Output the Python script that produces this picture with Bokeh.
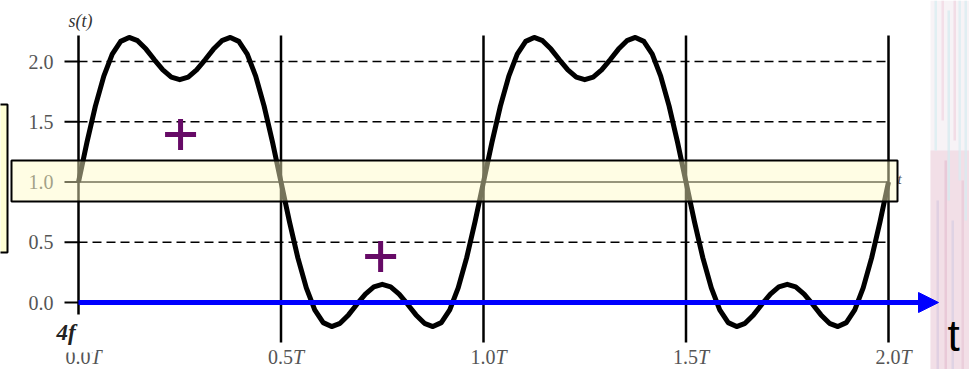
from bokeh.plotting import figure
from bokeh.models import Arrow, NormalHead, BoxAnnotation
from bokeh.core.properties import value
from bokeh.embed import file_html
from bokeh.resources import INLINE
import numpy as np

# ---------------- data ----------------
# sampled signal s(t), t in units of T, 48 samples per period
s_values = [
    1.000, 1.329, 1.630, 1.879, 2.061, 2.167, 2.200, 2.173, 2.103, 2.014, 1.930, 1.870,
    1.849, 1.870, 1.930, 2.014, 2.103, 2.173, 2.200, 2.167, 2.061, 1.879, 1.630, 1.329,
    1.000, 0.671, 0.370, 0.121, -0.061, -0.167, -0.200, -0.173, -0.103, -0.014, 0.070, 0.130,
    0.151, 0.130, 0.070, -0.014, -0.103, -0.173, -0.200, -0.167, -0.061, 0.121, 0.370, 0.671,
    1.000, 1.329, 1.630, 1.879, 2.061, 2.167, 2.200, 2.173, 2.103, 2.014, 1.930, 1.870,
    1.849, 1.870, 1.930, 2.014, 2.103, 2.173, 2.200, 2.167, 2.061, 1.879, 1.630, 1.329,
    1.000, 0.671, 0.370, 0.121, -0.061, -0.167, -0.200, -0.173, -0.103, -0.014, 0.070, 0.130,
    0.151, 0.130, 0.070, -0.014, -0.103, -0.173, -0.200, -0.167, -0.061, 0.121, 0.370, 0.671,
    1.000,
]
t_values = list(np.arange(len(s_values)) / 48.0)

xtick_pos = [0.0, 0.5, 1.0, 1.5, 2.0]
xtick_num = ["0.0", "0.5", "1.0", "1.5", "2.0"]
xtick_unit = ["T", "T", "T", "T", "T"]
ytick_pos = [0.0, 0.5, 1.0, 1.5, 2.0]
ytick_labels = ["0.0", "0.5", "1.0", "1.5", "2.0"]
dashed_levels = [0.5, 1.5, 2.0]
solid_level = [1.0]
plus_t = [0.252, 0.746]
plus_s = [1.394, 0.382]

# ---------------- layout helpers (picture pixels -> data) ----------------
W, H = 969, 369
def px2t(px):
    return (px - 78) / 405.0
def py2s(py):
    return (302 - py) / 120.5

p = figure(width=W, height=H, x_range=(px2t(0), px2t(W)), y_range=(py2s(H), py2s(0)),
           output_backend="svg", toolbar_location=None, min_border=0)
p.axis.visible = False
p.grid.visible = False
p.outline_line_color = None
p.background_fill_color = "white"
p.border_fill_color = "white"

serif = value("Liberation Serif")

# decorative textured strip on the right
p.quad(left=px2t(930), right=px2t(975), bottom=py2s(369), top=py2s(0),
       fill_color="#f7f3f6", line_color=None)
p.quad(left=px2t(930), right=px2t(975), bottom=py2s(369), top=py2s(150),
       fill_color="#efd2de", fill_alpha=0.6, line_color=None)
for sx, col, top, bot in [(934, "#d6edf1", 0, 150), (941, "#f1d6e2", 0, 120), (947, "#d3eaf0", 10, 200),
                          (953, "#efd3df", 0, 140), (958, "#d8ecf2", 0, 180), (964, "#d5ebf1", 0, 220),
                          (936, "#d9c9e0", 200, 369), (944, "#e5bfd1", 160, 369), (951, "#d7cde2", 220, 369),
                          (961, "#e8c6d6", 180, 369)]:
    p.quad(left=px2t(sx), right=px2t(sx + 2.5), bottom=py2s(bot), top=py2s(top),
           fill_color=col, fill_alpha=0.7, line_color=None)

# left box (mostly outside the view)
p.quad(left=px2t(-10), right=px2t(7), bottom=py2s(252), top=py2s(104),
       fill_color="#ffffd4", line_color="black", line_width=2)

# horizontal reference lines
p.segment(x0=[xtick_pos[0]] * len(dashed_levels), x1=[xtick_pos[-1]] * len(dashed_levels),
          y0=dashed_levels, y1=dashed_levels, line_color="black", line_width=1.5, line_dash="9 5")
p.segment(x0=[xtick_pos[0]], x1=[xtick_pos[-1]], y0=solid_level, y1=solid_level,
          line_color="black", line_width=1.5)

# vertical lines at the x ticks
p.segment(x0=xtick_pos, x1=xtick_pos, y0=[py2s(342)] * len(xtick_pos), y1=[py2s(35)] * len(xtick_pos),
          line_color="black", line_width=2.5)

# y ticks
p.segment(x0=[px2t(64)] * len(ytick_pos), x1=[px2t(79)] * len(ytick_pos), y0=ytick_pos, y1=ytick_pos,
          line_color="black", line_width=2)
p.text(x=[0] * len(ytick_pos), y=ytick_pos, text=ytick_labels, x_offset=-25, y_offset=0,
       text_align="right", text_baseline="alphabetic", text_font=serif,
       text_font_size="20px", text_color="#555555")

# signal
p.line(t_values, s_values, line_color="black", line_width=5, line_join="round")

# purple markers
p.scatter(plus_t, plus_s, marker="cross", size=31, line_width=5, line_color="#660a66")

# x tick labels
p.text(x=xtick_pos, y=[0] * len(xtick_pos), text=xtick_num, x_offset=-13, y_offset=54,
       text_align="left", text_baseline="alphabetic", text_font=serif,
       text_font_size="20px", text_color="#555555")
p.text(x=xtick_pos, y=[0] * len(xtick_pos), text=xtick_unit, x_offset=12, y_offset=54,
       text_align="left", text_baseline="alphabetic", text_font=serif, text_font_style="italic",
       text_font_size="20px", text_color="#555555")

# white patch with "4f"
p.quad(left=px2t(50), right=px2t(96), bottom=py2s(352), top=py2s(314),
       fill_color="white", line_color=None)
p.text(x=[px2t(56)], y=[py2s(332)], text=["4f"], text_align="left", text_baseline="alphabetic",
       text_font=serif, text_font_style="bold italic", text_font_size="23px", text_color="#222222")

# axis titles
p.text(x=[0], y=[py2s(20)], text=["s(t)"], x_offset=2, text_align="center",
       text_baseline="alphabetic", text_font=serif, text_font_style="italic",
       text_font_size="18px", text_color="#333333")
p.text(x=[px2t(897)], y=[py2s(178)], text=["t"], text_align="left", text_baseline="alphabetic",
       text_font=serif, text_font_style="italic", text_font_size="15px", text_color="#555555")

# blue time arrow
p.add_layout(Arrow(end=NormalHead(size=20, fill_color="#0000ff", line_color="#0000ff"),
                   x_start=0, y_start=0, x_end=px2t(938), y_end=0,
                   line_color="#0000ff", line_width=5))
p.text(x=[px2t(947)], y=[py2s(335)], text=["t"], text_align="left", text_baseline="alphabetic",
       text_font=value("Liberation Sans"), text_font_size="44px", text_color="black")

# highlight band around s = 1
p.add_layout(BoxAnnotation(left=px2t(11), right=px2t(897), bottom=py2s(201), top=py2s(160),
                           fill_color="#fefac4", fill_alpha=0.46,
                           line_color="black", line_alpha=1.0, line_width=2))

open("out.html", "w").write(file_html(p, INLINE))
